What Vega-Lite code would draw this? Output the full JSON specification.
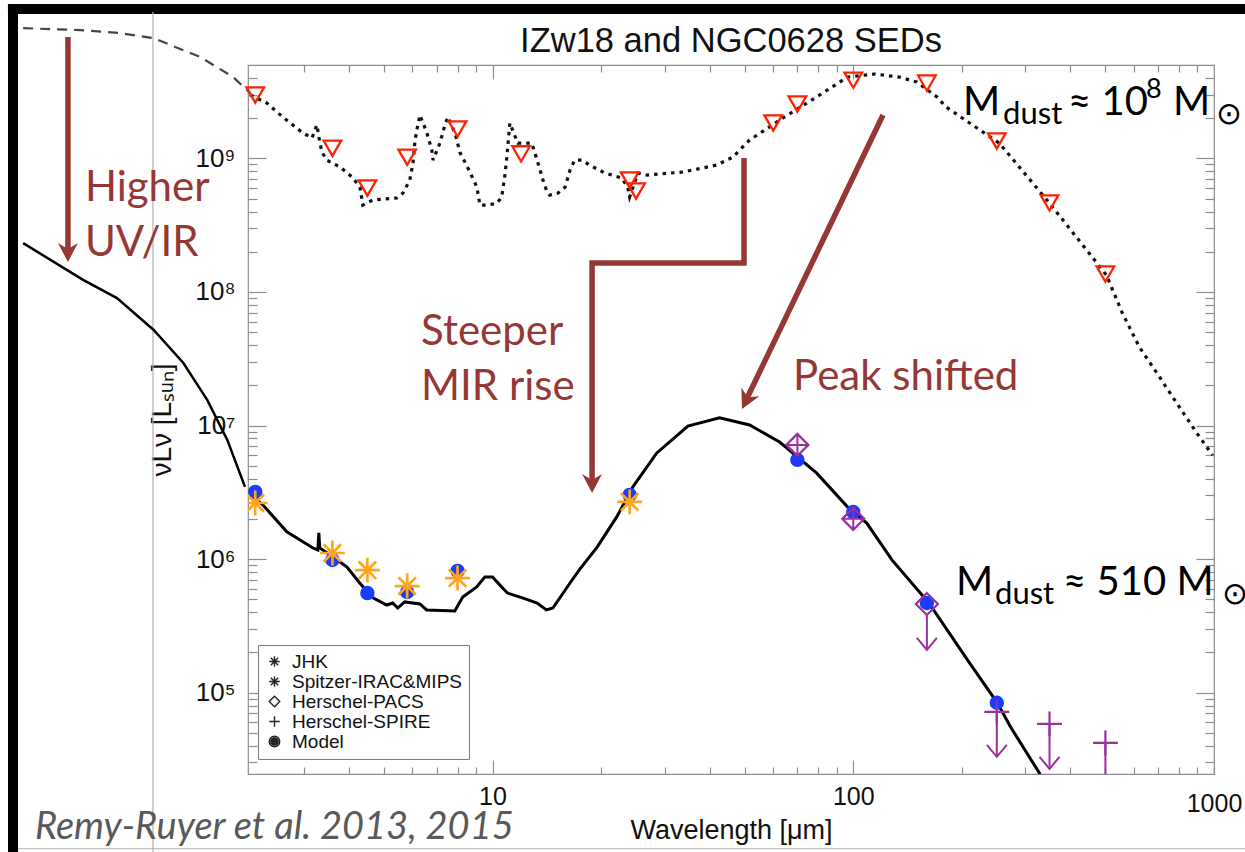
{
  "$schema": "https://vega.github.io/schema/vega-lite/v6.json",
  "width": 966,
  "height": 709,
  "autosize": {"type": "none"},
  "padding": {"left": 248, "top": 65, "right": 31, "bottom": 78},
  "background": "white",
  "title": {"text": "IZw18 and NGC0628 SEDs", "font": "Liberation Sans", "fontSize": 34.5, "fontWeight": "normal", "color": "#111111", "anchor": "middle", "frame": "group", "baseline": "alphabetic", "offset": -86},
  "config": {"view": {"stroke": "#8c8c8c", "strokeWidth": 1.2}},
  "resolve": {"axis": {"x": "independent", "y": "independent"}},
  "datasets": {
    "black_bars": [
      {"w": 0.4686, "w2": 0.4686, "L": 1.406e10, "L2": 6.0e3},
      {"w": 0.4537, "w2": 1250, "L": 1.312e10, "L2": 1.312e10}
    ],
    "grey_lines": [
      {"w": 1.145, "w2": 1.145, "L": 1.25e10, "L2": 6.0e3},
      {"w": 0.4835, "w2": 1250, "L": 6.78e3, "L2": 6.78e3}
    ],
    "upper_ext": [
      {"w": 0.50, "L": 9.44e9}, {"w": 0.72, "L": 9.12e9}, {"w": 0.93, "L": 8.66e9}, {"w": 1.15, "L": 7.94e9},
      {"w": 1.55, "L": 5.73e9}, {"w": 1.91, "L": 4.06e9}, {"w": 2.13, "L": 3.08e9}
    ],
    "upper_curve": [
      {"w": 2.13, "L": 2.98e9}, {"w": 2.37, "L": 2.59e9}, {"w": 2.62, "L": 2.04e9}, {"w": 2.98, "L": 1.55e9},
      {"w": 3.16, "L": 1.42e9}, {"w": 3.26, "L": 1.78e9}, {"w": 3.32, "L": 1.32e9}, {"w": 3.37, "L": 1.11e9},
      {"w": 3.47, "L": 9.7e8}, {"w": 3.78, "L": 8.6e8}, {"w": 4.08, "L": 7.24e8}, {"w": 4.29, "L": 6.1e8},
      {"w": 4.37, "L": 4.47e8}, {"w": 4.66, "L": 4.88e8}, {"w": 5.43, "L": 5.05e8}, {"w": 5.65, "L": 5.5e8},
      {"w": 5.90, "L": 6.89e8}, {"w": 6.02, "L": 9.23e8}, {"w": 6.10, "L": 1.37e9}, {"w": 6.17, "L": 1.63e9},
      {"w": 6.29, "L": 2.11e9}, {"w": 6.58, "L": 1.55e9}, {"w": 6.79, "L": 1.15e9}, {"w": 6.84, "L": 9.7e8},
      {"w": 7.15, "L": 1.30e9}, {"w": 7.38, "L": 1.78e9}, {"w": 7.52, "L": 2.04e9}, {"w": 7.87, "L": 1.55e9},
      {"w": 8.12, "L": 1.11e9}, {"w": 8.55, "L": 8.45e8}, {"w": 9.05, "L": 6.1e8}, {"w": 9.23, "L": 4.47e8},
      {"w": 9.71, "L": 4.47e8}, {"w": 10.3, "L": 4.62e8}, {"w": 10.6, "L": 5.14e8}, {"w": 10.8, "L": 7.13e8},
      {"w": 10.96, "L": 1.02e9}, {"w": 11.17, "L": 1.84e9}, {"w": 11.75, "L": 1.30e9}, {"w": 12.85, "L": 1.30e9},
      {"w": 13.1, "L": 1.10e9}, {"w": 13.5, "L": 8.45e8}, {"w": 13.8, "L": 6.89e8}, {"w": 14.1, "L": 5.8e8},
      {"w": 14.4, "L": 5.31e8}, {"w": 15.2, "L": 5.5e8}, {"w": 15.9, "L": 6.1e8}, {"w": 16.4, "L": 8.17e8},
      {"w": 16.9, "L": 9.7e8}, {"w": 17.7, "L": 9.7e8}, {"w": 18.6, "L": 8.9e8}, {"w": 20.5, "L": 7.76e8},
      {"w": 22.8, "L": 7.13e8}, {"w": 23.7, "L": 6.1e8}, {"w": 24.0, "L": 5.14e8}, {"w": 25.3, "L": 7.76e8},
      {"w": 26.8, "L": 7.5e8}, {"w": 33.7, "L": 7.9e8}, {"w": 41.8, "L": 8.9e8}, {"w": 46.3, "L": 1.02e9},
      {"w": 51.6, "L": 1.37e9}, {"w": 63.7, "L": 2.0e9}, {"w": 79.1, "L": 2.88e9}, {"w": 96.4, "L": 4.06e9},
      {"w": 114.5, "L": 4.28e9}, {"w": 134, "L": 4.06e9}, {"w": 150, "L": 3.73e9}, {"w": 170.6, "L": 2.88e9},
      {"w": 181, "L": 2.42e9}, {"w": 254, "L": 1.30e9}, {"w": 350, "L": 4.62e8}, {"w": 503, "L": 1.34e8},
      {"w": 557, "L": 6.95e7}, {"w": 621, "L": 3.87e7}, {"w": 706, "L": 2.31e7}, {"w": 802, "L": 1.37e7},
      {"w": 912, "L": 8.2e6}, {"w": 991, "L": 6.0e6}
    ],
    "lower_ext": [
      {"w": 0.50, "L": 2.32e8}, {"w": 0.733, "L": 1.23e8}, {"w": 0.91, "L": 9.0e7}, {"w": 1.15, "L": 5.19e7},
      {"w": 1.39, "L": 2.94e7}, {"w": 1.62, "L": 1.55e7}, {"w": 1.84, "L": 7.8e6}, {"w": 2.06, "L": 3.47e6}
    ],
    "lower_curve": [
      {"w": 2.17, "L": 2.92e6}, {"w": 2.31, "L": 2.54e6}, {"w": 2.69, "L": 1.60e6}, {"w": 3.18, "L": 1.21e6},
      {"w": 3.28, "L": 1.17e6}, {"w": 3.30, "L": 1.57e6}, {"w": 3.32, "L": 1.21e6}, {"w": 3.61, "L": 1.04e6},
      {"w": 3.95, "L": 8.7e5}, {"w": 4.29, "L": 6.6e5}, {"w": 4.66, "L": 5.12e5}, {"w": 5.09, "L": 4.53e5},
      {"w": 5.29, "L": 4.69e5}, {"w": 5.46, "L": 4.30e5}, {"w": 5.71, "L": 4.78e5}, {"w": 6.29, "L": 4.61e5},
      {"w": 6.57, "L": 4.16e5}, {"w": 7.86, "L": 4.08e5}, {"w": 8.27, "L": 5.20e5}, {"w": 9.04, "L": 6.18e5},
      {"w": 9.52, "L": 7.34e5}, {"w": 10.0, "L": 7.34e5}, {"w": 10.6, "L": 6.18e5}, {"w": 11.0, "L": 5.57e5},
      {"w": 12.1, "L": 5.12e5}, {"w": 13.3, "L": 4.69e5}, {"w": 14.1, "L": 4.16e5}, {"w": 14.7, "L": 4.30e5},
      {"w": 16.4, "L": 6.62e5}, {"w": 17.4, "L": 8.3e5}, {"w": 19.5, "L": 1.23e6}, {"w": 22.1, "L": 2.07e6},
      {"w": 24.5, "L": 3.47e6}, {"w": 28.5, "L": 6.2e6}, {"w": 34.8, "L": 9.9e6}, {"w": 42.6, "L": 1.14e7},
      {"w": 51.6, "L": 1.01e7}, {"w": 62.5, "L": 7.52e6}, {"w": 79.2, "L": 4.40e6}, {"w": 96.5, "L": 2.45e6},
      {"w": 109, "L": 1.86e6}, {"w": 128, "L": 9.85e5}, {"w": 162, "L": 4.69e5}, {"w": 210, "L": 1.67e5},
      {"w": 250, "L": 8.5e4}, {"w": 273, "L": 5.53e4}, {"w": 328, "L": 2.5e4}, {"w": 340, "L": 2.0e4}
    ],
    "upper_pts": [
      {"w": 2.2, "L": 2.98e9}, {"w": 3.6, "L": 1.19e9}, {"w": 4.5, "L": 6.0e8}, {"w": 5.8, "L": 1.02e9},
      {"w": 8.0, "L": 1.66e9}, {"w": 12, "L": 1.08e9}, {"w": 24, "L": 6.88e8}, {"w": 25, "L": 5.69e8},
      {"w": 60, "L": 1.84e9}, {"w": 70, "L": 2.55e9}, {"w": 100, "L": 3.85e9}, {"w": 160, "L": 3.66e9},
      {"w": 250, "L": 1.35e9}, {"w": 350, "L": 4.64e8}, {"w": 500, "L": 1.36e8}
    ],
    "lower_pts": [
      {"w": 2.2, "L": 3.18e6, "inst": "Model"}, {"w": 3.6, "L": 9.85e5, "inst": "Model"},
      {"w": 4.5, "L": 5.57e5, "inst": "Model"}, {"w": 5.8, "L": 5.67e5, "inst": "Model"},
      {"w": 8.0, "L": 8.15e5, "inst": "Model"}, {"w": 24, "L": 3.02e6, "inst": "Model"},
      {"w": 70, "L": 5.53e6, "inst": "Model"}, {"w": 100, "L": 2.25e6, "inst": "Model"},
      {"w": 160, "L": 4.69e5, "inst": "Model"}, {"w": 250, "L": 8.4e4, "inst": "Model"},
      {"w": 2.2, "L": 2.63e6, "inst": "JHK"},
      {"w": 3.6, "L": 1.11e6, "inst": "Spitzer-IRAC&MIPS"}, {"w": 4.5, "L": 8.26e5, "inst": "Spitzer-IRAC&MIPS"},
      {"w": 5.8, "L": 6.28e5, "inst": "Spitzer-IRAC&MIPS"}, {"w": 8.0, "L": 7.21e5, "inst": "Spitzer-IRAC&MIPS"},
      {"w": 24, "L": 2.68e6, "inst": "Spitzer-IRAC&MIPS"},
      {"w": 70, "L": 7.16e6, "inst": "Herschel-PACS"}, {"w": 100, "L": 2.0e6, "inst": "Herschel-PACS"},
      {"w": 160, "L": 4.61e5, "inst": "Herschel-PACS"},
      {"w": 250, "L": 7.17e4, "inst": "Herschel-SPIRE"}, {"w": 350, "L": 5.84e4, "inst": "Herschel-SPIRE"},
      {"w": 500, "L": 4.21e4, "inst": "Herschel-SPIRE"}
    ],
    "limits": [
      {"w": 160, "L": 3.82e5, "L2": 2.09e5}, {"w": 250, "L": 7.17e4, "L2": 3.31e4},
      {"w": 350, "L": 5.84e4, "L2": 2.69e4}, {"w": 500, "L": 4.21e4, "L2": 1.94e4}
    ],
    "pacs_cross": [{"w": 70, "L": 7.16e6}, {"w": 100, "L": 2.0e6}],
    "arrows": [
      {"id": "a", "i": 0, "w": 0.6654, "L": 8.1e9}, {"id": "a", "i": 1, "w": 0.6654, "L": 2.063e8},
      {"id": "b", "i": 0, "w": 49.8, "L": 1.007e9}, {"id": "b", "i": 1, "w": 49.8, "L": 1.648e8},
      {"id": "b", "i": 2, "w": 18.88, "L": 1.648e8}, {"id": "b", "i": 3, "w": 18.88, "L": 3.85e6},
      {"id": "c", "i": 0, "w": 120.9, "L": 2.11e9}, {"id": "c", "i": 1, "w": 50.79, "L": 1.606e7}
    ],
    "heads_v": [{"w": 0.6654, "L": 1.677e8}, {"w": 18.88, "L": 3.13e6}],
    "heads_d": [{"w": 49.17, "L": 1.331e7}],
    "notes": [
      {"w": 0.7417, "L": 4.80e8, "t": "Higher"}, {"w": 0.7417, "L": 1.86e8, "t": "UV/IR"},
      {"w": 6.34, "L": 4.01e7, "t": "Steeper"}, {"w": 6.34, "L": 1.555e7, "t": "MIR rise"},
      {"w": 68.1, "L": 1.847e7, "t": "Peak shifted"}
    ],
    "mbig": [
      {"w": 201.6, "L": 2.11e9, "t": "M"}, {"w": 394, "L": 2.11e9, "t": "≈ 10"}, {"w": 770, "L": 2.11e9, "t": "M"},
      {"w": 192.8, "L": 5.40e5, "t": "M"}, {"w": 381.7, "L": 5.40e5, "t": "≈ 510 M"}
    ],
    "msub": [
      {"w": 260.2, "L": 1.81e9, "t": "dust"}, {"w": 1010, "L": 1.81e9, "t": "⊙"},
      {"w": 247.2, "L": 4.62e5, "t": "dust"}, {"w": 1055, "L": 4.62e5, "t": "⊙"}
    ],
    "msup": [{"w": 648.3, "L": 2.83e9, "t": "8"}],
    "source": [{"w": 0.539, "L": 8000, "t": "Remy-Ruyer et al. 2013, 2015"}]
  },
  "layer": [
    {
      "data": {"name": "black_bars"},
      "mark": {"type": "rule", "color": "black", "strokeWidth": 10, "clip": false},
      "encoding": {
        "x": {"field": "w", "type": "quantitative", "scale": {"type": "log", "domain": [2.1, 1000], "nice": false}, "axis": null},
        "x2": {"field": "w2"},
        "y": {"field": "L", "type": "quantitative", "scale": {"type": "log", "domain": [24600, 5000000000], "nice": false}, "axis": null},
        "y2": {"field": "L2"}
      }
    },
    {
      "data": {"name": "grey_lines"},
      "mark": {"type": "rule", "color": "#b0b0b0", "strokeWidth": 1.2, "clip": false},
      "encoding": {
        "x": {"field": "w", "type": "quantitative", "scale": {"type": "log", "domain": [2.1, 1000], "nice": false}, "axis": null},
        "x2": {"field": "w2"},
        "y": {"field": "L", "type": "quantitative", "scale": {"type": "log", "domain": [24600, 5000000000], "nice": false}, "axis": null},
        "y2": {"field": "L2"}
      }
    },
    {
      "data": {"name": "upper_ext"},
      "mark": {"type": "line", "color": "#444444", "strokeWidth": 2.2, "strokeDash": [10, 7], "clip": false},
      "encoding": {
        "x": {"field": "w", "type": "quantitative", "scale": {"type": "log", "domain": [2.1, 1000], "nice": false}, "axis": null},
        "y": {"field": "L", "type": "quantitative", "scale": {"type": "log", "domain": [24600, 5000000000], "nice": false}, "axis": null}
      }
    },
    {
      "data": {"name": "upper_curve"},
      "mark": {"type": "line", "color": "#111111", "strokeWidth": 3.2, "strokeDash": [3.5, 5], "clip": true},
      "encoding": {
        "x": {"field": "w", "type": "quantitative", "scale": {"type": "log", "domain": [2.1, 1000], "nice": false},
          "axis": {"orient": "top", "values": [3,4,5,6,7,8,9,10,20,30,40,50,60,70,80,90,100,200,300,400,500,600,700,800,900],
            "tickSize": {"condition": {"test": "datum.value == 10 || datum.value == 100", "value": -14}, "value": -7},
            "tickColor": "#8c8c8c", "tickWidth": 1.2, "domain": false, "grid": false, "labels": false, "title": null}},
        "y": {"field": "L", "type": "quantitative", "scale": {"type": "log", "domain": [24600, 5000000000], "nice": false},
          "axis": {"orient": "right", "values": [30000,40000,50000,60000,70000,80000,90000,100000,200000,300000,400000,500000,600000,700000,800000,900000,1000000,2000000,3000000,4000000,5000000,6000000,7000000,8000000,9000000,10000000,20000000,30000000,40000000,50000000,60000000,70000000,80000000,90000000,100000000,200000000,300000000,400000000,500000000,600000000,700000000,800000000,900000000,1000000000,2000000000,3000000000,4000000000],
            "tickSize": {"condition": {"test": "datum.value == 100000 || datum.value == 1000000 || datum.value == 10000000 || datum.value == 100000000 || datum.value == 1000000000", "value": -18}, "value": -9},
            "tickColor": "#8c8c8c", "tickWidth": 1.2, "domain": false, "grid": false, "labels": false, "title": null}}
      }
    },
    {
      "data": {"name": "lower_ext"},
      "mark": {"type": "line", "color": "black", "strokeWidth": 2.5, "clip": false},
      "encoding": {
        "x": {"field": "w", "type": "quantitative", "scale": {"type": "log", "domain": [2.1, 1000], "nice": false}, "axis": null},
        "y": {"field": "L", "type": "quantitative", "scale": {"type": "log", "domain": [24600, 5000000000], "nice": false}, "axis": null}
      }
    },
    {
      "data": {"name": "lower_curve"},
      "mark": {"type": "line", "color": "black", "strokeWidth": 3, "clip": true},
      "encoding": {
        "x": {"field": "w", "type": "quantitative", "scale": {"type": "log", "domain": [2.1, 1000], "nice": false},
          "axis": {"orient": "bottom", "values": [3,4,5,6,7,8,9,10,20,30,40,50,60,70,80,90,100,200,300,400,500,600,700,800,900,1000],
            "tickSize": {"condition": {"test": "datum.value == 10 || datum.value == 100", "value": -14}, "value": -7},
            "tickColor": "#8c8c8c", "tickWidth": 1.2, "domain": false, "grid": false,
            "labelExpr": "datum.value == 10 ? '10' : datum.value == 100 ? '100' : datum.value == 1000 ? '1000' : ''",
            "labelFont": "Liberation Sans", "labelFontSize": 25, "labelColor": "#111111", "labelPadding": 24,
            "labelOverlap": false, "labelFlush": false, "labelBound": false,
            "title": "Wavelength [μm]", "titleFont": "Liberation Sans", "titleFontSize": 27, "titleFontWeight": "normal", "titleColor": "#111111", "titlePadding": 1}},
        "y": {"field": "L", "type": "quantitative", "scale": {"type": "log", "domain": [24600, 5000000000], "nice": false},
          "axis": {"orient": "left", "values": [30000,40000,50000,60000,70000,80000,90000,100000,200000,300000,400000,500000,600000,700000,800000,900000,1000000,2000000,3000000,4000000,5000000,6000000,7000000,8000000,9000000,10000000,20000000,30000000,40000000,50000000,60000000,70000000,80000000,90000000,100000000,200000000,300000000,400000000,500000000,600000000,700000000,800000000,900000000,1000000000,2000000000,3000000000,4000000000],
            "tickSize": {"condition": {"test": "datum.value == 100000 || datum.value == 1000000 || datum.value == 10000000 || datum.value == 100000000 || datum.value == 1000000000", "value": -18}, "value": -9},
            "tickColor": "#8c8c8c", "tickWidth": 1.2, "domain": false, "grid": false,
            "labelExpr": "datum.value == 100000 ? '10⁵' : datum.value == 1000000 ? '10⁶' : datum.value == 10000000 ? '10⁷' : datum.value == 100000000 ? '10⁸' : datum.value == 1000000000 ? '10⁹' : ''",
            "labelFont": "Liberation Sans", "labelFontSize": 26, "labelColor": "#111111", "labelPadding": 31,
            "labelOverlap": false, "labelFlush": false, "labelBound": false,
            "title": "νLν [Lₛᵤₙ]", "titleFont": "Liberation Sans", "titleFontSize": 28, "titleFontWeight": "normal", "titleColor": "#111111", "titlePadding": 18}}
      }
    },
    {
      "data": {"name": "upper_pts"},
      "mark": {"type": "point", "shape": "triangle-down", "filled": false, "color": "#ff2200", "opacity": 1, "strokeWidth": 2.3, "size": 310, "clip": false},
      "encoding": {
        "x": {"field": "w", "type": "quantitative", "scale": {"type": "log", "domain": [2.1, 1000], "nice": false}, "axis": null},
        "y": {"field": "L", "type": "quantitative", "scale": {"type": "log", "domain": [24600, 5000000000], "nice": false}, "axis": null}
      }
    },
    {
      "data": {"name": "limits"},
      "mark": {"type": "rule", "color": "#9a2f9e", "strokeWidth": 2, "clip": true},
      "encoding": {
        "x": {"field": "w", "type": "quantitative", "scale": {"type": "log", "domain": [2.1, 1000], "nice": false}, "axis": null},
        "y": {"field": "L", "type": "quantitative", "scale": {"type": "log", "domain": [24600, 5000000000], "nice": false}, "axis": null},
        "y2": {"field": "L2"}
      }
    },
    {
      "data": {"name": "limits"},
      "mark": {"type": "point", "shape": "M-1,-1.2L0,0L1,-1.2", "filled": false, "color": "#9a2f9e", "opacity": 1, "strokeWidth": 2, "size": 400, "clip": true},
      "encoding": {
        "x": {"field": "w", "type": "quantitative", "scale": {"type": "log", "domain": [2.1, 1000], "nice": false}, "axis": null},
        "y": {"field": "L2", "type": "quantitative", "scale": {"type": "log", "domain": [24600, 5000000000], "nice": false}, "axis": null}
      }
    },
    {
      "data": {"name": "lower_pts"},
      "mark": {"type": "point", "strokeWidth": 2.2, "opacity": 1, "clip": true},
      "encoding": {
        "x": {"field": "w", "type": "quantitative", "scale": {"type": "log", "domain": [2.1, 1000], "nice": false}, "axis": null},
        "y": {"field": "L", "type": "quantitative", "scale": {"type": "log", "domain": [24600, 5000000000], "nice": false}, "axis": null},
        "shape": {"field": "inst", "type": "nominal",
          "scale": {"domain": ["JHK", "Spitzer-IRAC&MIPS", "Herschel-PACS", "Herschel-SPIRE", "Model"],
            "range": ["M-1,0L1,0M0,-1L0,1M-0.7,-0.7L0.7,0.7M-0.7,0.7L0.7,-0.7", "M-1,0L1,0M0,-1L0,1M-0.7,-0.7L0.7,0.7M-0.7,0.7L0.7,-0.7", "diamond", "M-1,0L1,0M0,-1L0,1",
              "M-1,0A1,1,0,1,0,1,0A1,1,0,1,0,-1,0M-0.7,0A0.7,0.7,0,1,0,0.7,0A0.7,0.7,0,1,0,-0.7,0M-0.42,0A0.42,0.42,0,1,0,0.42,0A0.42,0.42,0,1,0,-0.42,0M-0.15,0A0.15,0.15,0,1,0,0.15,0A0.15,0.15,0,1,0,-0.15,0"]},
          "legend": {"title": null, "orient": "none", "legendX": 10, "legendY": 580, "strokeColor": "#7a7a7a", "fillColor": "white", "padding": 7,
            "labelFont": "Liberation Sans", "labelFontSize": 19, "labelColor": "#111111", "labelOffset": 8, "labelLimit": 300, "rowPadding": 0,
            "symbolSize": 110, "symbolStrokeWidth": 1.4, "symbolStrokeColor": "#222222", "symbolOpacity": 1,
            "encode": {"symbols": {"update": {"fill": {"signal": "datum.value === 'Model' ? '#111111' : 'transparent'"}, "stroke": {"value": "#222222"}, "opacity": {"value": 1}}}}}},
        "stroke": {"condition": [{"test": "datum.inst === 'Model'", "value": "#1a3cff"}, {"test": "datum.inst === 'Herschel-PACS' || datum.inst === 'Herschel-SPIRE'", "value": "#9a2f9e"}], "value": "#ffa41f"},
        "strokeWidth": {"condition": {"test": "datum.inst === 'JHK' || datum.inst === 'Spitzer-IRAC&MIPS'", "value": 2.7}, "value": 2.2},
        "fill": {"condition": {"test": "datum.inst === 'Model'", "value": "#1a3cff"}, "value": "transparent"},
        "size": {"condition": [{"test": "datum.inst === 'Model'", "value": 150}, {"test": "datum.inst === 'Herschel-PACS'", "value": 484}], "value": 620}
      }
    },
    {
      "data": {"name": "pacs_cross"},
      "mark": {"type": "point", "shape": "M-1,0L1,0M0,-1L0,1", "filled": false, "color": "#9a2f9e", "opacity": 1, "strokeWidth": 2, "size": 400, "clip": true},
      "encoding": {
        "x": {"field": "w", "type": "quantitative", "scale": {"type": "log", "domain": [2.1, 1000], "nice": false}, "axis": null},
        "y": {"field": "L", "type": "quantitative", "scale": {"type": "log", "domain": [24600, 5000000000], "nice": false}, "axis": null}
      }
    },
    {
      "data": {"name": "arrows"},
      "mark": {"type": "line", "color": "#953735", "strokeWidth": 5.5, "strokeJoin": "miter", "clip": false},
      "encoding": {
        "x": {"field": "w", "type": "quantitative", "scale": {"type": "log", "domain": [2.1, 1000], "nice": false}, "axis": null},
        "y": {"field": "L", "type": "quantitative", "scale": {"type": "log", "domain": [24600, 5000000000], "nice": false}, "axis": null},
        "detail": {"field": "id", "type": "nominal"},
        "order": {"field": "i", "type": "quantitative"}
      }
    },
    {
      "data": {"name": "heads_v"},
      "mark": {"type": "point", "shape": "M0,0L-1,-1.9L0,-1.3L1,-1.9Z", "filled": true, "color": "#953735", "opacity": 1, "size": 400, "clip": false},
      "encoding": {
        "x": {"field": "w", "type": "quantitative", "scale": {"type": "log", "domain": [2.1, 1000], "nice": false}, "axis": null},
        "y": {"field": "L", "type": "quantitative", "scale": {"type": "log", "domain": [24600, 5000000000], "nice": false}, "axis": null}
      }
    },
    {
      "data": {"name": "heads_d"},
      "mark": {"type": "point", "shape": "M0,0L-1,-1.9L0,-1.3L1,-1.9Z", "filled": true, "color": "#953735", "opacity": 1, "size": 400, "angle": 26, "clip": false},
      "encoding": {
        "x": {"field": "w", "type": "quantitative", "scale": {"type": "log", "domain": [2.1, 1000], "nice": false}, "axis": null},
        "y": {"field": "L", "type": "quantitative", "scale": {"type": "log", "domain": [24600, 5000000000], "nice": false}, "axis": null}
      }
    },
    {
      "data": {"name": "notes"},
      "mark": {"type": "text", "align": "left", "baseline": "alphabetic", "font": "Lato", "fontSize": 42, "color": "#953735", "clip": false},
      "encoding": {
        "x": {"field": "w", "type": "quantitative", "scale": {"type": "log", "domain": [2.1, 1000], "nice": false}, "axis": null},
        "y": {"field": "L", "type": "quantitative", "scale": {"type": "log", "domain": [24600, 5000000000], "nice": false}, "axis": null},
        "text": {"field": "t"}
      }
    },
    {
      "data": {"name": "mbig"},
      "mark": {"type": "text", "align": "left", "baseline": "alphabetic", "font": "Lato", "fontSize": 40, "color": "black", "clip": false},
      "encoding": {
        "x": {"field": "w", "type": "quantitative", "scale": {"type": "log", "domain": [2.1, 1000], "nice": false}, "axis": null},
        "y": {"field": "L", "type": "quantitative", "scale": {"type": "log", "domain": [24600, 5000000000], "nice": false}, "axis": null},
        "text": {"field": "t"}
      }
    },
    {
      "data": {"name": "msub"},
      "mark": {"type": "text", "align": "left", "baseline": "alphabetic", "font": "Lato", "fontSize": 31, "color": "black", "clip": false},
      "encoding": {
        "x": {"field": "w", "type": "quantitative", "scale": {"type": "log", "domain": [2.1, 1000], "nice": false}, "axis": null},
        "y": {"field": "L", "type": "quantitative", "scale": {"type": "log", "domain": [24600, 5000000000], "nice": false}, "axis": null},
        "text": {"field": "t"}
      }
    },
    {
      "data": {"name": "msup"},
      "mark": {"type": "text", "align": "left", "baseline": "alphabetic", "font": "Lato", "fontSize": 27, "color": "black", "clip": false},
      "encoding": {
        "x": {"field": "w", "type": "quantitative", "scale": {"type": "log", "domain": [2.1, 1000], "nice": false}, "axis": null},
        "y": {"field": "L", "type": "quantitative", "scale": {"type": "log", "domain": [24600, 5000000000], "nice": false}, "axis": null},
        "text": {"field": "t"}
      }
    },
    {
      "data": {"name": "source"},
      "mark": {"type": "text", "align": "left", "baseline": "alphabetic", "font": "Lato", "fontSize": 38, "fontStyle": "italic", "color": "#595959", "clip": false},
      "encoding": {
        "x": {"field": "w", "type": "quantitative", "scale": {"type": "log", "domain": [2.1, 1000], "nice": false}, "axis": null},
        "y": {"field": "L", "type": "quantitative", "scale": {"type": "log", "domain": [24600, 5000000000], "nice": false}, "axis": null},
        "text": {"field": "t"}
      }
    }
  ]
}
